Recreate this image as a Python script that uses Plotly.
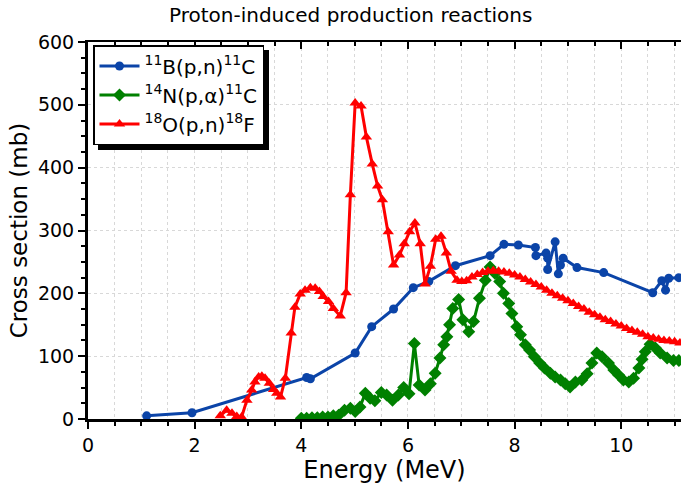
import plotly.graph_objects as go

# 11B(p,n)11C
b_x = [1.1, 1.95, 4.1, 4.17, 5.01, 5.32, 5.73, 6.1, 6.39, 6.89, 7.54, 7.8, 8.07, 8.39, 8.4, 8.59, 8.62,
       8.62, 8.76, 8.82, 8.86, 8.91, 9.17, 9.67, 10.59, 10.76, 10.83, 10.89, 11.08]
b_y = [5, 10, 66, 64, 105, 147, 175, 209, 219, 244, 260, 278, 277, 273, 260, 264, 256,
       238, 282, 231, 245, 256, 241, 233, 201, 220, 205, 224, 225]

# 14N(p,a)11C
n_x = [4.0, 4.1, 4.2, 4.3, 4.4, 4.5, 4.6, 4.7, 4.81, 4.92, 5.01, 5.1, 5.2, 5.29, 5.38, 5.5, 5.6, 5.71,
       5.82, 5.92, 6.02, 6.12, 6.21, 6.32, 6.42, 6.51, 6.6, 6.67, 6.73, 6.78, 6.84, 6.95, 7.03, 7.14,
       7.23, 7.34, 7.45, 7.54, 7.63, 7.72, 7.79, 7.89, 7.95, 8.04, 8.11, 8.2, 8.28, 8.37, 8.47, 8.56,
       8.67, 8.76, 8.86, 8.95, 9.04, 9.14, 9.26, 9.36, 9.45, 9.54, 9.64, 9.76, 9.86, 9.95, 10.04,
       10.14, 10.23, 10.33, 10.39, 10.45, 10.54, 10.64, 10.73, 10.86, 10.98, 11.08]
n_y = [1, 1, 2, 2, 3, 3, 5, 6, 14, 17, 12, 19, 41, 33, 29, 42, 38, 30,
       38, 50, 40, 120, 54, 46, 56, 73, 97, 118, 131, 150, 176, 190, 158, 139,
       155, 192, 221, 242, 232, 219, 200, 184, 168, 147, 134, 118, 110, 99, 89, 81,
       73, 67, 62, 56, 51, 59, 62, 72, 89, 105, 99, 89, 78, 70, 62,
       59, 65, 81, 95, 107, 119, 113, 105, 97, 93, 93]

# 18O(p,n)18F
o_x = [2.48, 2.6, 2.7, 2.79, 2.88, 2.98, 3.07, 3.13, 3.2, 3.26, 3.32, 3.4, 3.48, 3.54, 3.61, 3.7,
       3.81, 3.88, 3.98, 4.07, 4.17, 4.26, 4.34, 4.41, 4.51, 4.6, 4.73, 4.84, 4.92, 5.01, 5.12, 5.22,
       5.33, 5.43, 5.52, 5.63, 5.73, 5.84, 5.93, 6.03, 6.13, 6.23, 6.32, 6.42, 6.52, 6.62, 6.72, 6.81,
       6.92, 7.01, 7.1, 7.2, 7.3, 7.4, 7.5, 7.6, 7.7, 7.8, 7.9, 8.0, 8.1, 8.2, 8.3, 8.4, 8.5, 8.6,
       8.7, 8.8, 8.9, 9.0, 9.1, 9.2, 9.3, 9.4, 9.5, 9.6, 9.7, 9.8, 9.9, 10.0, 10.1, 10.2, 10.3, 10.4,
       10.5, 10.6, 10.7, 10.8, 10.9, 11.0, 11.1]
o_y = [5, 14, 9, 4, 3, 30, 46, 59, 67, 68, 65, 57, 47, 41, 35, 65,
       137, 178, 199, 205, 209, 208, 203, 195, 187, 176, 164, 201, 357, 503, 498, 449,
       406, 371, 349, 298, 245, 261, 279, 298, 312, 279, 215, 243, 286, 291, 264, 235,
       221, 219, 220, 226, 230, 233, 235, 236, 235, 234, 232, 229, 226, 222, 218, 214, 210, 205,
       200, 196, 192, 188, 184, 179, 175, 170, 166, 162, 158, 155, 151, 148, 144, 141, 138, 135,
       131, 129, 127, 125, 124, 123, 121]

names = ["<sup>11</sup>B(p,n)<sup>11</sup>C",
         "<sup>14</sup>N(p,α)<sup>11</sup>C",
         "<sup>18</sup>O(p,n)<sup>18</sup>F"]

FONT = "DejaVu Sans"

fig = go.Figure()
fig.add_trace(go.Scatter(x=b_x, y=b_y, name=names[0], mode="lines+markers",
                         line=dict(color="#0B44A8", width=3),
                         marker=dict(symbol="circle", size=9, color="#0B44A8")))
fig.add_trace(go.Scatter(x=n_x, y=n_y, name=names[1], mode="lines+markers",
                         line=dict(color="#008000", width=3),
                         marker=dict(symbol="diamond", size=10, color="#008000")))
fig.add_trace(go.Scatter(x=o_x, y=o_y, name=names[2], mode="lines+markers",
                         line=dict(color="#FF0000", width=3),
                         marker=dict(symbol="triangle-up", size=10, color="#FF0000")))

# top axis with inside ticks
fig.add_trace(go.Scatter(x=[None], y=[None], xaxis="x2", showlegend=False, hoverinfo="skip"))

W, H = 681, 485
L, T, B, R = 88, 42, 66, 0
pw, ph = W - L - R, H - T - B

def px(x):
    return (x - L) / pw

def py(y):
    return (H - B - y) / ph

fig.add_shape(type="rect", xref="paper", yref="paper",
              x0=px(98), x1=px(269), y0=py(150), y1=py(50),
              fillcolor="black", line=dict(width=0), layer="above")

fig.update_layout(
    width=W, height=H,
    margin=dict(l=L, r=R, t=T, b=B),
    plot_bgcolor="white", paper_bgcolor="white",
    font=dict(family=FONT, color="black"),
    title=dict(text="Proton-induced production reactions", x=0.515, xanchor="center",
               y=1 - 15 / H, yanchor="middle", font=dict(size=20, family=FONT, color="black")),
    legend=dict(x=px(93), y=py(45), xanchor="left", yanchor="top",
                bgcolor="white", bordercolor="black", borderwidth=1.5,
                font=dict(size=20, family=FONT), tracegroupgap=0, itemwidth=40),
    xaxis=dict(range=[0, 11.12], dtick=2, tick0=0, showline=True, linecolor="black", linewidth=3,
               ticks="outside", ticklen=7, tickwidth=2, tickcolor="black",
               tickfont=dict(size=19), zeroline=False,
               showgrid=True, gridcolor="#D8D8D8", griddash="dot", gridwidth=1,
               minor=dict(dtick=0.5, ticks="outside", ticklen=4, tickwidth=2, tickcolor="black",
                          showgrid=True, gridcolor="#D8D8D8", griddash="dot", gridwidth=1),
               title=dict(text="Energy (MeV)", font=dict(size=24), standoff=4)),
    xaxis2=dict(range=[0, 11.12], overlaying="x", side="top", dtick=2, tick0=0,
                showline=True, linecolor="black", linewidth=2,
                ticks="inside", ticklen=7, tickwidth=2, tickcolor="black",
                showticklabels=False, showgrid=False, zeroline=False,
                minor=dict(dtick=0.5, ticks="inside", ticklen=4, tickwidth=2, tickcolor="black")),
    yaxis=dict(range=[0, 600], dtick=100, showline=True, linecolor="black", linewidth=3,
               ticks="outside", ticklen=7, tickwidth=2, tickcolor="black",
               tickfont=dict(size=19), zeroline=False,
               showgrid=True, gridcolor="#D8D8D8", griddash="dot", gridwidth=1,
               minor=dict(dtick=25, ticks="outside", ticklen=4, tickwidth=2, tickcolor="black",
                          showgrid=False),
               title=dict(text="Cross section (mb)", font=dict(size=23), standoff=4)),
)

fig.write_html("out.html")
